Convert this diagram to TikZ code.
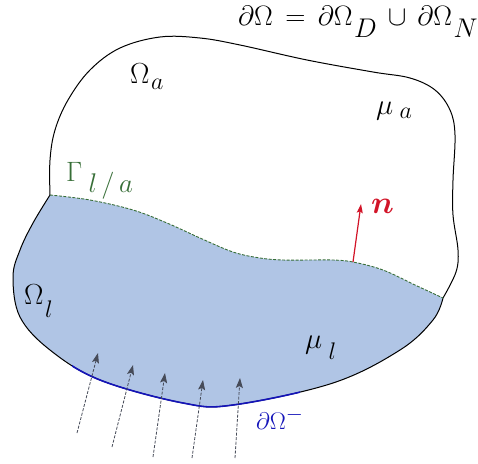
\RequirePackage{fix-cm}
\documentclass[tikz,border=0pt]{standalone}
\usepackage{amsmath,bm}
\usetikzlibrary{arrows.meta}
\DeclareMathSizes{24}{24}{22}{16}
\DeclareMathSizes{28}{28}{27}{20}
\DeclareMathSizes{29}{29}{24}{18}
\DeclareMathSizes{32}{32}{24}{18}
\newcommand{\dropsub}[2]{\mskip1mu\lower#1\hbox{$\scriptstyle#2$}}
\definecolor{liquid}{RGB}{176,197,229}
\definecolor{ifgreen}{RGB}{55,110,55}
\definecolor{bblue}{RGB}{20,20,185}
\definecolor{nred}{RGB}{210,20,40}
\definecolor{agray}{RGB}{70,75,88}
\tikzset{
  bnd/.style={line width=1pt, black},
  iface/.style={line width=0.9pt, ifgreen, dash pattern=on 3pt off 1.5pt},
  inflow/.style={line width=0.8pt, agray, dash pattern=on 3pt off 1.5pt,
                 -{Stealth[length=10pt,width=7pt,inset=2pt]}},
  normal/.style={line width=1.2pt, nred, -{Stealth[length=9pt,width=6pt,inset=1.5pt]}},
  lbl/.style={inner sep=0pt, anchor=base west, font=\fontsize{29}{33}\selectfont}
}
\begin{document}
\begin{tikzpicture}[x=1pt,y=-1pt]
\useasboundingbox (0,0) rectangle (478,463);
% liquid region
\fill[liquid] plot[smooth,tension=.6] coordinates {(50,195) (90,200) (133,210) (167,223) (200,238) (233,252) (260,258) (283,260) (310,260) (333,260) (353,262) (383,270) (415,285) (443,298)}
  -- plot[smooth,tension=.6] coordinates {(443,298) (433,320) (400,350) (333,383) (233,405) (183,403) (100,380) (50,350) (20,317) (13,277) (20,250) (33,223) (50,195)} -- cycle;
% outer boundary, upper part
\draw[bnd] plot[smooth,tension=.6] coordinates {(50,195) (50,160) (55,130) (68,100) (90,70) (120,48) (160,37) (200,38) (240,45) (307,60) (373,72) (410,78) (435,90) (450,110) (455,135) (453,180) (453,215) (458,250) (456,272) (443,298)};
% outer boundary, lower part
\draw[bnd] plot[smooth,tension=.6] coordinates {(443,298) (433,320) (400,350) (333,383) (233,405) (183,403) (100,380) (50,350) (20,317) (13,277) (20,250) (33,223) (50,195)};
% inflow boundary (blue)
\begin{scope}
  \clip (72,360) rectangle (300,420);
  \draw[line width=1.6pt, bblue] plot[smooth,tension=.6] coordinates {(443,298) (433,320) (400,350) (333,383) (233,405) (183,403) (100,380) (50,350) (20,317) (13,277) (20,250) (33,223) (50,195)};
\end{scope}
% interface
\draw[iface] plot[smooth,tension=.6] coordinates {(50,195) (90,200) (133,210) (167,223) (200,238) (233,252) (260,258) (283,260) (310,260) (333,260) (353,262) (383,270) (415,285) (443,298)};
% inflow arrows
\coordinate (t1) at (77,433);  \coordinate (h1) at (98,353);
\coordinate (t2) at (112,447); \coordinate (h2) at (133,365);
\coordinate (t3) at (153,457); \coordinate (h3) at (165,373);
\coordinate (t4) at (192,458); \coordinate (h4) at (203,380);
\coordinate (t5) at (235,458); \coordinate (h5) at (240,378);
\draw[inflow] (t1) -- (h1);
\draw[inflow] (t2) -- (h2);
\draw[inflow] (t3) -- (h3);
\draw[inflow] (t4) -- (h4);
\draw[inflow] (t5) -- (h5);
% normal vector
\coordinate (nbase) at (353,262);
\coordinate (ntip) at (361,204);
\draw[normal] (nbase) -- (ntip);
% labels
\node[lbl, font=\fontsize{28}{32}\selectfont] (bc) at (238,25) {$\partial\Omega \,=\, \partial\Omega\dropsub{12pt}{D} \,\cup\, \partial\Omega\dropsub{12pt}{N}$};
\node[lbl] (Oa) at (130,83) {$\Omega\dropsub{6pt}{a}$};
\node[lbl] (mua) at (376,114) {$\mu\,\dropsub{4pt}{a}$};
\node[lbl, font=\fontsize{28}{32}\selectfont, text=ifgreen] (G) at (66,181) {$\Gamma\,\dropsub{11pt}{l\,/\,a}$};
\node[lbl, font=\fontsize{32}{36}\selectfont, text=nred] (n) at (371,213) {$\bm{n}$};
\node[lbl] (Ol) at (24,304) {$\Omega\dropsub{13pt}{l}$};
\node[lbl] (mul) at (305,348) {$\mu\,\dropsub{11pt}{l}$};
\node[lbl, font=\fontsize{24}{28}\selectfont, text=bblue] (dOm) at (256,429) {$\partial\Omega^{-}$};
\end{tikzpicture}
\end{document}
